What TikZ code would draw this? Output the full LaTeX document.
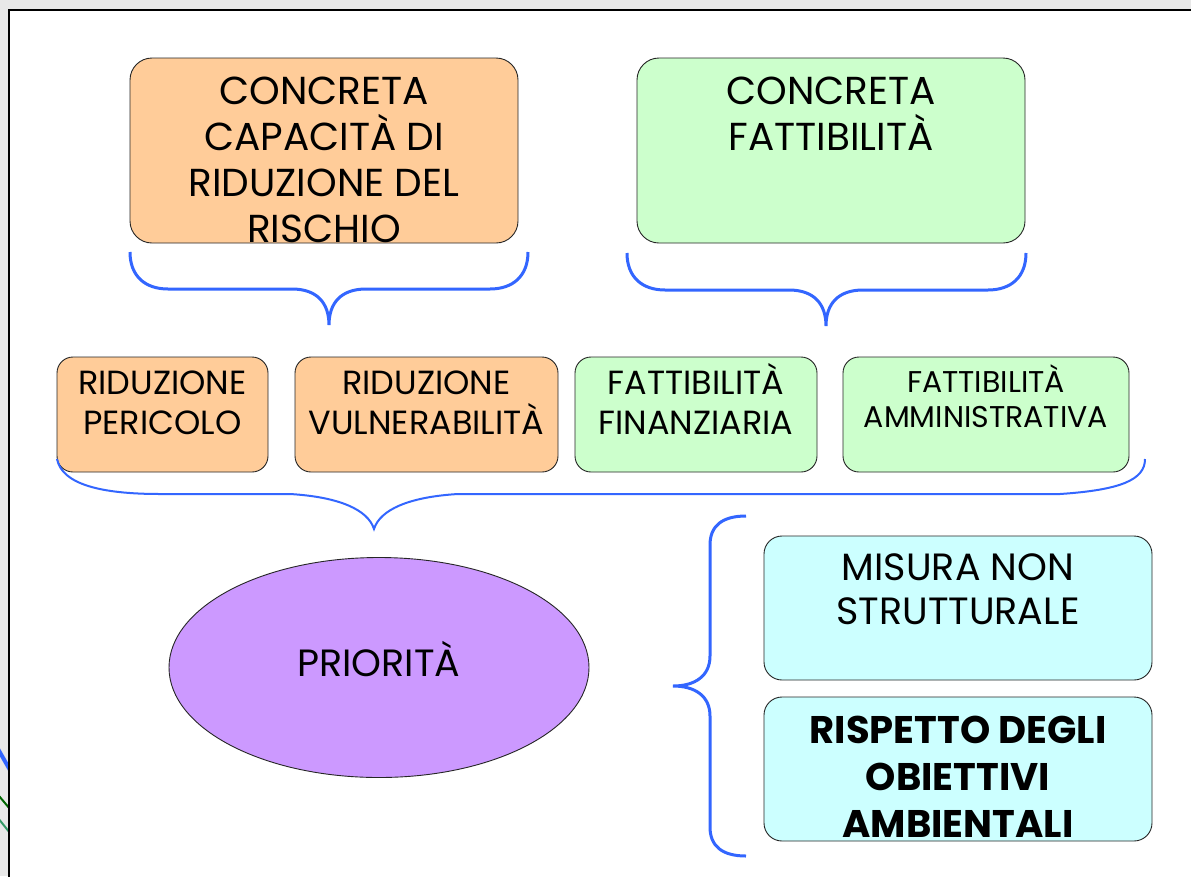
\documentclass[tikz,border=0pt]{standalone}
\usepackage{fontspec}
\setmainfont{Poppins}
\usetikzlibrary{shapes.geometric}
\definecolor{bgray}{HTML}{E8E8E8}
\definecolor{corange}{HTML}{FFCC99}
\definecolor{cgreen}{HTML}{CCFFCC}
\definecolor{ccyan}{HTML}{CCFFFF}
\definecolor{cpurple}{HTML}{CC99FF}
\definecolor{cbrace}{HTML}{3366FF}
\definecolor{dgreen}{HTML}{006600}
\definecolor{tgreen}{HTML}{339966}
\begin{document}
\begin{tikzpicture}[x=1pt,y=-1pt,
  box/.style={draw=black!85,line width=0.9pt,rounded corners=#1,inner sep=0pt,minimum height=115pt},
  box/.default=16pt,
  txt/.style={inner sep=0pt,align=center,anchor=south,text=black},
  bracel/.style={draw=cbrace,line width=3pt},
  bracet/.style={draw=cbrace,line width=2pt}
]
\useasboundingbox (0,0) rectangle (1191,876);
\fill[bgray] (0,0) rectangle (1191,876);
% stray lines behind the frame
\begin{scope}
\clip (0,0) rectangle (9,876);
\draw[cbrace,line width=4pt] (-6,742) -- (10,770);
\draw[dgreen,line width=2pt] (-6,790) -- (10,809);
\draw[tgreen,line width=2pt] (-6,813) -- (10,833);
\end{scope}
\draw[fill=white,draw=black,line width=2pt] (9,10) rectangle (1200,890);

% top boxes
\node[box=22pt,fill=corange,minimum width=388pt,minimum height=185pt] (bo) at (324,150.5) {};
\node[box=22pt,fill=cgreen,minimum width=388pt,minimum height=185pt] (bg) at (831,150.5) {};
\node[txt,font=\fontsize{39}{46}\selectfont] (tbo) at (324,243) {CONCRETA\\CAPACITÀ DI\\RIDUZIONE DEL\\RISCHIO};
\node[txt,font=\fontsize{39}{46}\selectfont] (tbg) at (831,151) {CONCRETA\\FATTIBILITÀ};

% top braces
\draw[bracel] (130,252) .. controls (130,276) and (145,289) .. (168,289) -- (292,289)
  .. controls (317,289) and (329,303) .. (329,325)
  .. controls (329,303) and (341,289) .. (366,289) -- (490,289)
  .. controls (513,289) and (528,276) .. (528,252);
\draw[bracel] (627,253) .. controls (627,277) and (642,290) .. (665,290) -- (789,290)
  .. controls (814,290) and (826,304) .. (826,326)
  .. controls (826,304) and (838,290) .. (863,290) -- (988,290)
  .. controls (1011,290) and (1026,277) .. (1026,253);

% small boxes
\node[box,fill=corange,minimum width=211pt] (s1) at (162.5,414.5) {};
\node[box,fill=corange,minimum width=263pt] (s2) at (426.5,414.5) {};
\node[box,fill=cgreen,minimum width=242pt] (s3) at (696,414.5) {};
\node[box,fill=cgreen,minimum width=286pt] (s4) at (986,414.5) {};
\node[txt,font=\fontsize{33.5}{40}\selectfont] (ts1) at (162.5,435) {RIDUZIONE\\PERICOLO};
\node[txt,font=\fontsize{33.5}{40}\selectfont] (ts2) at (426.5,435) {RIDUZIONE\\VULNERABILITÀ};
\node[txt,font=\fontsize{33.5}{40}\selectfont] (ts3) at (696,435) {FATTIBILITÀ\\FINANZIARIA};
\node[txt,font=\fontsize{30}{35}\selectfont] (ts4) at (986,428) {FATTIBILITÀ\\AMMINISTRATIVA};

% big brace
\draw[bracet] (57,459) .. controls (62,484) and (100,494) .. (160,494) -- (290,494)
  .. controls (340,497) and (368,510) .. (374,529)
  .. controls (380,510) and (408,497) .. (458,494) -- (1060,494)
  .. controls (1120,490) and (1145,480) .. (1145,459);

% ellipse
\node[ellipse,draw=black!85,line width=0.9pt,fill=cpurple,minimum width=420pt,minimum height=220pt,inner sep=0pt] (pr) at (379,667.5) {};
\node[txt,font=\fontsize{38}{40}\selectfont] (tpr) at (379,677) {PRIORITÀ};

% vertical brace
\draw[bracel] (746,516) .. controls (722,516) and (710,526) .. (710,545) -- (710,656)
  .. controls (710,676) and (695,686) .. (673,686)
  .. controls (695,686) and (710,696) .. (710,716) -- (710,827)
  .. controls (710,846) and (722,856) .. (746,856);

% cyan boxes
\node[box=18pt,fill=ccyan,minimum width=388pt,minimum height=144pt] (c1) at (958,608) {};
\node[box=18pt,fill=ccyan,minimum width=388pt,minimum height=144pt] (c2) at (958,769) {};
\node[txt,font=\fontsize{38}{44}\selectfont] (tc1) at (958,625) {MISURA NON\\STRUTTURALE};
\node[txt,font=\fontsize{38.5}{47}\selectfont\bfseries] (tc2) at (958,838) {RISPETTO DEGLI\\OBIETTIVI\\AMBIENTALI};
\end{tikzpicture}
\end{document}
